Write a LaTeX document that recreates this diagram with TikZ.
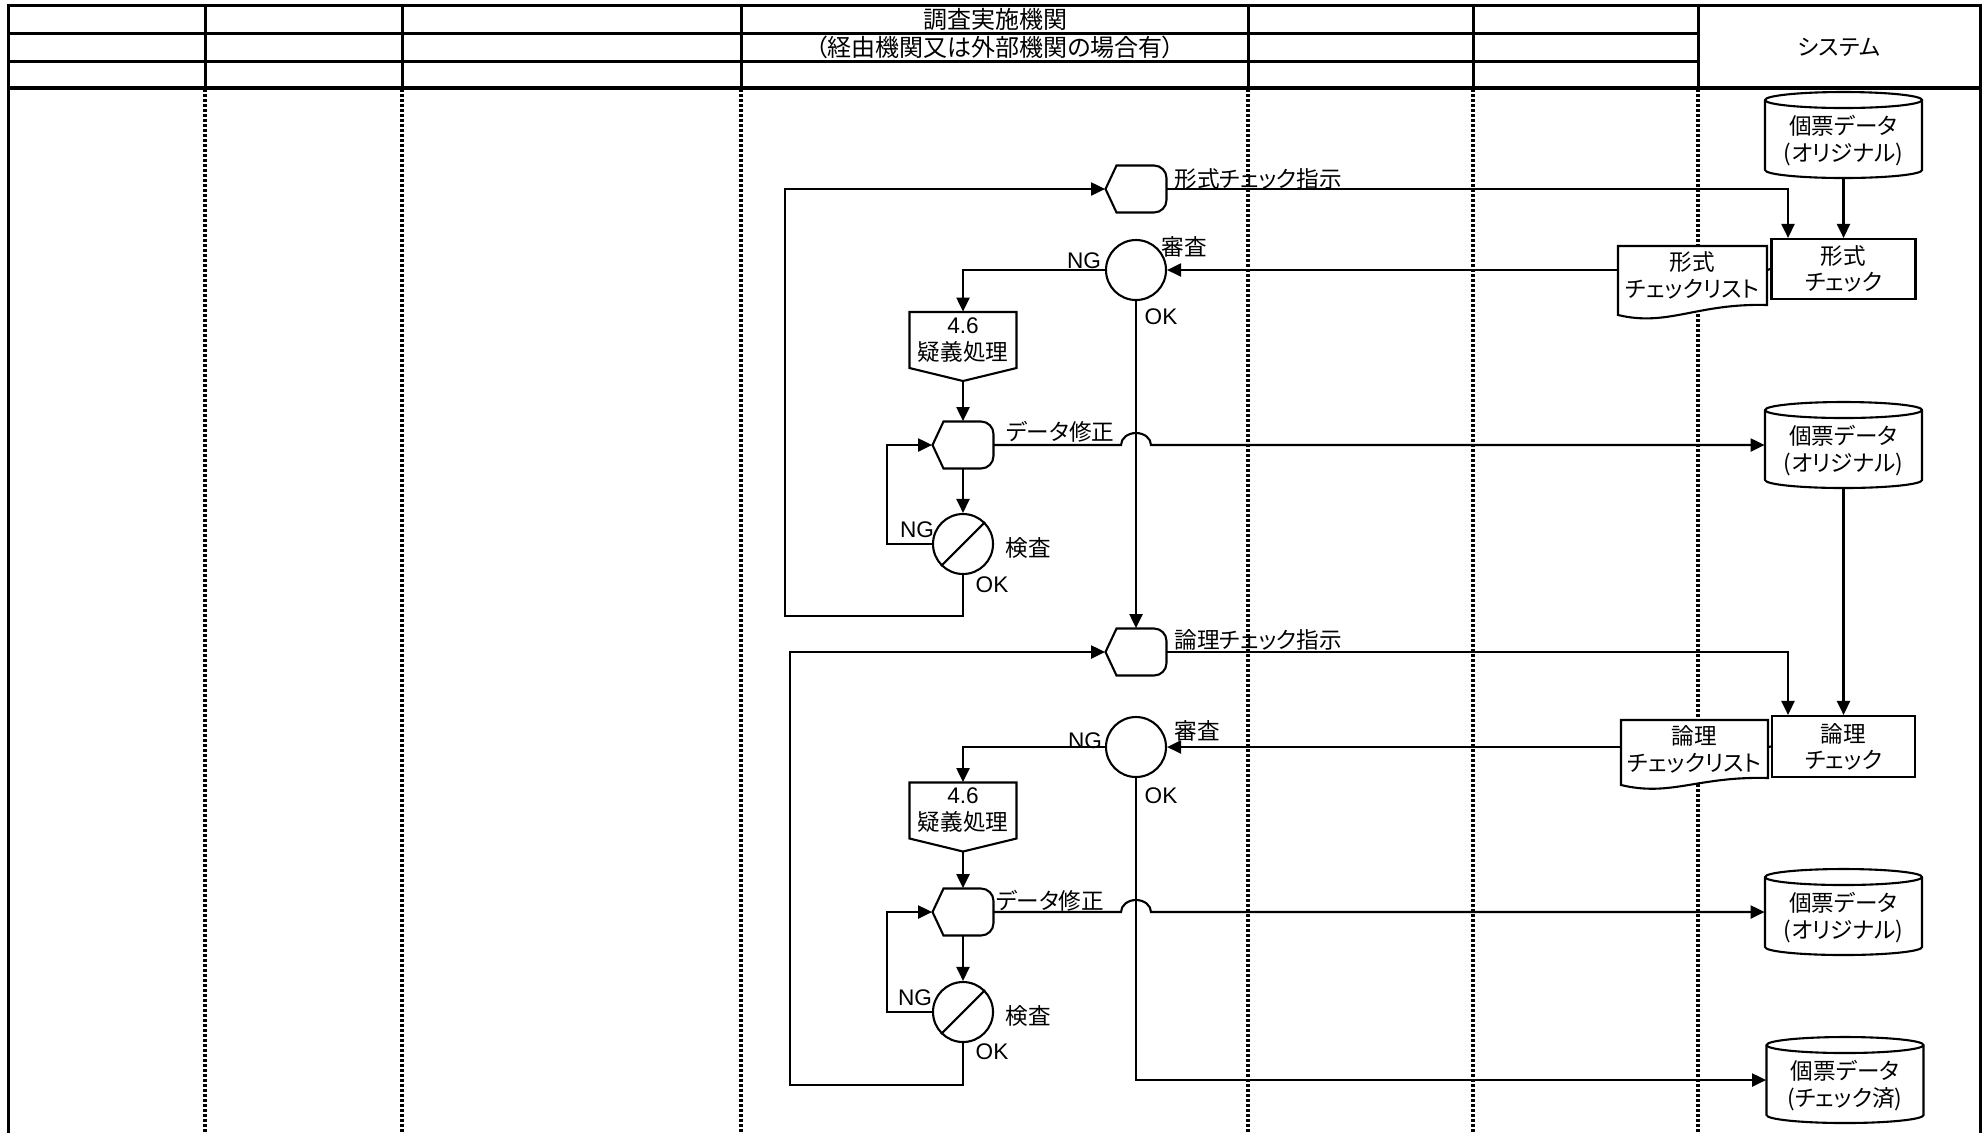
\documentclass[tikz,border=0pt]{standalone}
\usepackage{fontspec}
\setmainfont{Noto Sans CJK JP}[RawFeature=+palt]
\newfontfamily\lat{Liberation Sans}
\usetikzlibrary{arrows.meta,calc}

% display shape (hexagon left, rounded right)
\newcommand\dispshape[3]{%
  \node[shapebox,minimum width=30.5pt,minimum height=23.5pt] (#1) at (#2,#3) {};
  \begin{scope}[shift={(#2,#3)}]
    \draw[shp] (-30.5,0) -- (-19.5,-23.5) -- (18,-23.5)
      arc[start angle=-90,end angle=0,radius=12.5] -- (30.5,11)
      arc[start angle=0,end angle=90,radius=12.5] -- (-19.5,23.5) -- cycle;
  \end{scope}}
% off-page pentagon
\newcommand\pentshape[3]{%
  \node[shapebox,minimum width=53.5pt,minimum height=34.5pt] (#1) at (#2,#3) {};
  \begin{scope}[shift={(#2,#3)}]
    \draw[shp] (-53.5,-34.5) -- (53.5,-34.5) -- (53.5,21.5) -- (0,34.5) -- (-53.5,21.5) -- cycle;
  \end{scope}
  \node[txt] (#1t) at (#2,{#3-6.5}) {{\lat 4.6}\\疑義処理};}
% cylinder
\newcommand\cylshape[4]{%
  \node[shapebox,minimum width=78.5pt,minimum height=43pt] (#1) at (#2,#3) {};
  \begin{scope}[shift={(#2,#3)}]
    \draw[shp] (-78.5,-35) -- (-78.5,35)
      arc[start angle=180,end angle=0,x radius=78.5,y radius=8] -- (78.5,-35)
      arc[start angle=0,end angle=-180,x radius=78.5,y radius=8] -- cycle;
    \draw[ln] (-78.5,-35) arc[start angle=180,end angle=0,x radius=78.5,y radius=8];
  \end{scope}
  \node[txt] (#1t) at (#2,{#3+6}) {#4};}
% document shape: name, L, R, top, lb, rb, text y, text
\newcommand\docshape[8]{%
  \draw[shp] (#2,#4) -- (#3,#4) -- (#3,#6) .. controls ({#3-70},{#6-2}) and ({#2+50},{#5+12}) .. (#2,#5) -- cycle;
  \node[txt] (#1) at ({(#2+#3)/2},#7) {#8};}

\begin{document}
\begin{tikzpicture}[x=0.5pt,y=-0.5pt,
  hdr/.style={line width=1.5pt,line cap=rect},
  sep/.style={line width=1.8pt,dash pattern=on 1.6pt off 0.9pt},
  shp/.style={line width=1.05pt,fill=white,line join=miter},
  ln/.style={line width=1.05pt},
  conn/.style={line width=1.05pt,-{Triangle[length=7pt,width=6.5pt]}},
  txt/.style={inner sep=0pt,font=\fontsize{11.3}{13.5}\selectfont,align=center},
  hdtxt/.style={inner sep=0pt,font=\fontsize{12}{13.5}\selectfont,align=center},
  lt/.style={inner sep=0pt,font=\lat\fontsize{11.3}{13.5}\selectfont},
  shapebox/.style={rectangle,draw=none,inner sep=0pt},
  circ/.style={circle,draw,line width=1.05pt,minimum size=30pt,inner sep=0pt,fill=white},
  rbox/.style={rectangle,draw,line width=1.05pt,inner sep=0pt,fill=white,align=center,font=\fontsize{11.3}{13}\selectfont},
]
\useasboundingbox (0,0) rectangle (1984,1132);
\fill[white] (0,0) rectangle (1984,1132);

% ---------- lanes ----------
\draw[hdr] (8,5) -- (1980,5);
\draw[hdr] (8,33) -- (1698,33);
\draw[hdr] (8,61) -- (1698,61);
\draw[line width=2pt] (8,88) -- (1980,88);
\foreach \x in {205,402,741,1248,1473,1698} {
  \draw[hdr] (\x,5) -- (\x,88);
  \draw[sep] (\x,89) -- (\x,1132);
}
\draw[hdr] (8,5) -- (8,1132);
\draw[hdr] (1980,5) -- (1980,1132);

\node[hdtxt] (hd1) at (995,19) {調査実施機関};
\node[hdtxt] (hd2) at (995,47) {（経由機関又は外部機関の場合有）};
\node[txt] (hd3) at (1839,47) {システム};

% ---------- upper part ----------
\dispshape{h1}{1136}{189}
\node[circ] (c1) at (1136,270) {};
\pentshape{p1}{963}{346.5}
\dispshape{h2}{963}{445}
\node[circ] (k1) at (963,544) {};
\draw[ln] (k1.south west) -- (k1.north east);

\cylshape{cy1}{1843.5}{135}{個票データ\\(オリジナル)}
\node[rbox,minimum width=72pt,minimum height=30pt] (box1) at (1843.5,269) {形式\\チェック};
\docshape{doc1}{1618}{1767}{246}{315}{305}{275}{形式\\チェックリスト}
\coordinate (doc1w) at (1618,270);
\coordinate (doc1e) at (1767,270);
\cylshape{cy2}{1843.5}{445}{個票データ\\(オリジナル)}

% ---------- lower part ----------
\dispshape{h3}{1136}{652}
\node[circ] (c2) at (1136,747) {};
\pentshape{p2}{963}{817}
\dispshape{h4}{963}{912}
\node[circ] (k2) at (963,1012) {};
\draw[ln] (k2.south west) -- (k2.north east);

\node[rbox,minimum width=71.5pt,minimum height=30.5pt] (box2) at (1843.5,746.5) {論理\\チェック};
\docshape{doc2}{1621}{1768}{720}{785}{778}{749}{論理\\チェックリスト}
\coordinate (doc2w) at (1621,747);
\coordinate (doc2e) at (1768,747);
\cylshape{cy3}{1843.5}{912}{個票データ\\(オリジナル)}
\cylshape{cy4}{1845}{1080}{個票データ\\(チェック済)}

% ---------- labels ----------
\node[txt,anchor=west] (l1) at (1174,179) {形式チェック指示};
\node[txt] (l2) at (1184,247) {審査};
\node[lt] (l3) at (1084,261) {NG};
\node[lt] (l4) at (1161,317) {OK};
\node[txt] (l5) at (1060,432) {データ修正};
\node[txt] (l6) at (1028,548) {検査};
\node[lt] (l7) at (917,530) {NG};
\node[lt] (l8) at (992,585) {OK};

\node[txt,anchor=west] (m1) at (1174,640) {論理チェック指示};
\node[txt] (m2) at (1197,731) {審査};
\node[lt] (m3) at (1085,741) {NG};
\node[lt] (m4) at (1161,796) {OK};
\node[txt] (m5) at (1050,901) {データ修正};
\node[txt] (m6) at (1028,1016) {検査};
\node[lt] (m7) at (915,998) {NG};
\node[lt] (m8) at (992,1052) {OK};

% ---------- connectors upper ----------
\coordinate (j1) at (1788,189);
\draw[conn] (h1.east) -- (j1) -- (j1 |- box1.north);
\draw[conn] (cy1.south) -- (box1.north);
\draw[ln] (box1.west) -- (doc1e);
\draw[conn] (doc1w) -- (c1.east);
\draw[conn] (c1.west) -| (p1.north);
\draw[conn] (p1.south) -- (h2.north);
\draw[conn] (c1.south) -- (h3.north);
\draw[conn] (h2.east) -- (1121,445) arc[start angle=180,end angle=360,x radius=15,y radius=12] -- (cy2.west);
\draw[conn] (h2.south) -- (k1.north);
\coordinate (u2) at (887,544);
\draw[conn] (k1.west) -- (u2) |- (h2.west);
\coordinate (u1) at (785,616);
\draw[conn] (k1.south) |- (u1) |- (h1.west);

% ---------- connectors lower ----------
\coordinate (j2) at (1788,652);
\draw[conn] (h3.east) -- (j2) -- (j2 |- box2.north);
\draw[conn] (cy2.south) -- (box2.north);
\draw[ln] (box2.west) -- (doc2e);
\draw[conn] (doc2w) -- (c2.east);
\draw[conn] (c2.west) -| (p2.north);
\draw[conn] (p2.south) -- (h4.north);
\draw[conn] (h4.east) -- (1121,912) arc[start angle=180,end angle=360,x radius=15,y radius=12] -- (cy3.west);
\draw[conn] (h4.south) -- (k2.north);
\coordinate (u4) at (887,1012);
\draw[conn] (k2.west) -- (u4) |- (h4.west);
\coordinate (u3) at (790,1085);
\draw[conn] (k2.south) |- (u3) |- (h3.west);
\coordinate (u5) at (1136,1080);
\draw[conn] (c2.south) -- (u5) -- (cy4.west);
\end{tikzpicture}
\end{document}
